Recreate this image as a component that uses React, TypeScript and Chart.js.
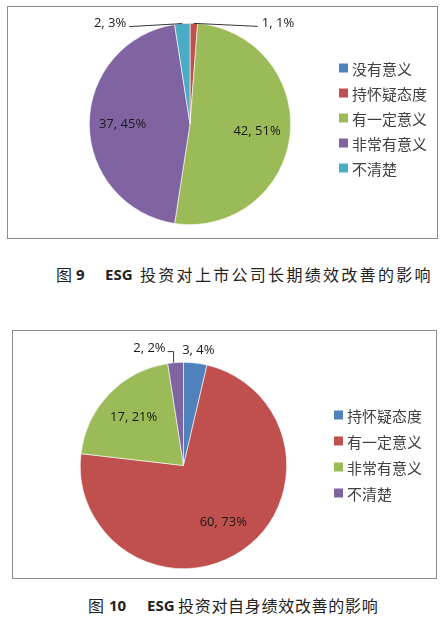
import React, { useEffect, useRef } from "react";
import { Chart, registerables } from "chart.js";

Chart.register(...registerables);

// ---- Chart 1 data (图 9) ----
const labels1 = ["没有意义", "持怀疑态度", "有一定意义", "非常有意义", "不清楚"];
const values1 = [0, 1, 42, 37, 2];
const pct1 = [0, 1, 51, 45, 3];
const colors1 = ["#4F81BD", "#C0504D", "#9BBB59", "#8064A2", "#4BACC6"];
const caption1 = { prefix: "图", num: "9", esg: "ESG", rest: "投资对上市公司长期绩效改善的影响" };

// ---- Chart 2 data (图 10) ----
const labels2 = ["持怀疑态度", "有一定意义", "非常有意义", "不清楚"];
const values2 = [3, 60, 17, 2];
const pct2 = [4, 73, 21, 2];
const colors2 = ["#4F81BD", "#C0504D", "#9BBB59", "#8064A2"];
const caption2 = { prefix: "图", num: "10", esg: "ESG", rest: "投资对自身绩效改善的影响" };

const LABEL_FONT = '13px "Open Sans", "Liberation Sans", sans-serif';
const LEGEND_FONT = '15px "Noto Sans CJK SC", sans-serif';

const decorPlugin = {
  id: "decor",
  afterDatasetsDraw(chart: any, _args: any, opts: any) {
    const ctx = chart.ctx;
    const meta = chart.getDatasetMeta(0);
    const ds = chart.data.datasets[0];
    ctx.save();
    // frame
    ctx.strokeStyle = "#8c8c8c";
    ctx.lineWidth = 1;
    const b = opts.box;
    ctx.strokeRect(b.x + 0.5, b.y + 0.5, b.w, b.h);

    // data labels
    ctx.font = LABEL_FONT;
    ctx.fillStyle = "#1a1a1a";
    ctx.textBaseline = "middle";
    meta.data.forEach((arc: any, i: number) => {
      const v = ds.data[i];
      if (!v) return;
      const p = arc.getProps(["x", "y", "startAngle", "endAngle", "outerRadius"], true);
      const mid = (p.startAngle + p.endAngle) / 2;
      const text = `${v}, ${opts.pcts[i]}%`;
      const out = opts.outside[i];
      if (!out) {
        const r = p.outerRadius * opts.insideFrac;
        ctx.textAlign = "center";
        ctx.fillText(text, p.x + Math.cos(mid) * r, p.y + Math.sin(mid) * r);
      } else {
        const ax = p.x + Math.cos(mid) * p.outerRadius;
        const ay = p.y + Math.sin(mid) * p.outerRadius;
        const lx = ax + out.dx;
        const ly = ay + out.dy;
        ctx.strokeStyle = "#000";
        ctx.lineWidth = 0.8;
        if (out.leader === "line") {
          ctx.beginPath();
          ctx.moveTo(ax, ay);
          ctx.lineTo(lx + (out.align === "left" ? -4 : 3), ly + 3);
          ctx.stroke();
        } else if (out.leader === "bracket") {
          ctx.beginPath();
          ctx.moveTo(ax - 2, ay);
          ctx.lineTo(ax - 2, ly + 3);
          ctx.lineTo(lx + 2, ly + 3);
          ctx.stroke();
        }
        ctx.textAlign = out.align;
        ctx.fillText(text, lx, ly);
      }
    });

    // legend
    const lg = opts.legend;
    ctx.font = LEGEND_FONT;
    ctx.textAlign = "left";
    ctx.textBaseline = "middle";
    chart.data.labels.forEach((lab: string, i: number) => {
      const cy = lg.y + i * lg.gap;
      ctx.fillStyle = ds.backgroundColor[i];
      ctx.fillRect(lg.x, cy - lg.size / 2, lg.size, lg.size);
      ctx.fillStyle = "#404040";
      ctx.fillText(lab, lg.x + lg.size + 4, cy + 1);
    });
    ctx.restore();
  },
};

function PieChart(props: {
  labels: string[];
  values: number[];
  colors: string[];
  pcts: number[];
  width: number;
  height: number;
  padding: any;
  box: any;
  legend: any;
  outside: any;
}) {
  const ref = useRef<HTMLCanvasElement>(null);
  useEffect(() => {
    const chart = new Chart(ref.current as HTMLCanvasElement, {
      type: "pie",
      data: {
        labels: props.labels,
        datasets: [
          {
            data: props.values,
            backgroundColor: props.colors,
            borderColor: "#ffffff",
            borderWidth: 0.6,
          },
        ],
      },
      options: {
        responsive: false,
        animation: false,
        layout: { padding: props.padding },
        plugins: {
          legend: { display: false },
          tooltip: { enabled: false },
          decor: {
            pcts: props.pcts,
            insideFrac: 0.67,
            outside: props.outside,
            box: props.box,
            legend: props.legend,
          },
        } as any,
      },
      plugins: [decorPlugin],
    });
    return () => chart.destroy();
  }, []);
  return <canvas ref={ref} width={props.width} height={props.height} style={{ width: props.width, height: props.height, display: "block" }} />;
}

function Caption(props: { c: any; top: number; left: number; numLeft: number; esgLeft: number; restLeft: number; spacing: number }) {
  const base: React.CSSProperties = {
    position: "absolute",
    top: props.top,
    fontFamily: '"Noto Sans CJK SC", sans-serif',
    fontSize: 16,
    lineHeight: "20px",
    color: "#222",
    whiteSpace: "nowrap",
  };
  const bold: React.CSSProperties = { ...base, fontFamily: '"Open Sans", "Liberation Sans", sans-serif', fontWeight: 700, fontSize: 15 };
  return (
    <>
      <span style={{ ...base, left: props.left }}>{props.c.prefix}</span>
      <span style={{ ...bold, left: props.numLeft }}>{props.c.num}</span>
      <span style={{ ...bold, left: props.esgLeft }}>{props.c.esg}</span>
      <span style={{ ...base, left: props.restLeft, letterSpacing: props.spacing }}>{props.c.rest}</span>
    </>
  );
}

export default function App() {
  return (
    <div style={{ position: "absolute", left: 0, top: 0, width: 443, height: 617, background: "#fff", overflow: "hidden" }}>
      <div style={{ position: "absolute", left: 0, top: 0 }}>
        <PieChart
          labels={labels1}
          values={values1}
          colors={colors1}
          pcts={pct1}
          width={443}
          height={250}
          padding={{ left: 89, right: 152, top: 23, bottom: 25 }}
          box={{ x: 7, y: 6, w: 430, h: 232 }}
          legend={{ x: 339, y: 68, gap: 25, size: 9 }}
          outside={{
            1: { dx: 68, dy: 0, align: "left", leader: "line" },
            4: { dx: -56, dy: 0, align: "right", leader: "line" },
          }}
        />
      </div>
      <Caption c={caption1} top={264} left={56} numLeft={76} esgLeft={105} restLeft={140} spacing={2.3} />
      <div style={{ position: "absolute", left: 0, top: 310 }}>
        <PieChart
          labels={labels2}
          values={values2}
          colors={colors2}
          pcts={pct2}
          width={443}
          height={280}
          padding={{ left: 80, right: 156, top: 52, bottom: 21 }}
          box={{ x: 12, y: 20, w: 424, h: 248 }}
          legend={{ x: 334, y: 105, gap: 26, size: 9 }}
          outside={{
            0: { dx: 3, dy: -13, align: "center", leader: "none" },
            3: { dx: -10, dy: -14, align: "right", leader: "bracket" },
          }}
        />
      </div>
      <Caption c={caption2} top={595} left={88} numLeft={109} esgLeft={147} restLeft={178} spacing={0.7} />
    </div>
  );
}
